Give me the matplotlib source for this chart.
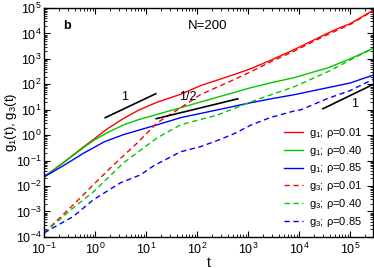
import numpy as np
import matplotlib
matplotlib.use("Agg")
import matplotlib.pyplot as plt
from matplotlib.ticker import LogLocator, NullFormatter

plt.rcParams['font.family'] = ['Liberation Sans', 'DejaVu Sans']
plt.rcParams['mathtext.default'] = 'regular'

# values as (log10 t, log10 g)
red_g1_lt = [-1, -0.6, -0.2, 0.0, 0.24, 0.55, 0.85, 1.22, 1.68, 2.07, 2.72, 3.06, 3.45, 3.9, 4.5, 4.77, 5.0, 5.48]
red_g1_lg = [-1.64, -1.04, -0.42, -0.12, 0.25, 0.65, 0.98, 1.3, 1.61, 1.95, 2.38, 2.62, 2.95, 3.36, 3.95, 4.2, 4.38, 4.94]

green_g1_lt = [-1, -0.6, -0.2, 0.0, 0.24, 0.55, 0.85, 1.22, 1.68, 2.41, 3.06, 3.45, 3.9, 4.57, 5.0, 5.48]
green_g1_lg = [-1.64, -1.05, -0.45, -0.17, 0.1, 0.4, 0.61, 0.82, 1.08, 1.5, 1.87, 2.06, 2.26, 2.65, 3.0, 3.44]

blue_g1_lt = [-1, -0.6, -0.21, 0.18, 0.555, 1.22, 1.68, 2.41, 3.06, 3.45, 3.9, 4.57, 5.0, 5.48]
blue_g1_lg = [-1.64, -1.17, -0.69, -0.26, 0.02, 0.41, 0.69, 1.0, 1.28, 1.43, 1.59, 1.87, 2.05, 2.38]

red_g3_lt = [-1, -0.43, -0.035, 0.36, 0.83, 1.22, 1.68, 2.07, 2.72, 3.06, 3.45, 3.9, 4.5, 5.0, 5.48]
red_g3_lg = [-3.84, -2.74, -1.95, -1.17, -0.3, 0.49, 1.08, 1.6, 2.18, 2.5, 2.89, 3.3, 3.9, 4.35, 4.92]

green_g3_lt = [-1, -0.43, -0.035, 0.555, 1.22, 1.68, 2.41, 3.06, 3.25, 3.9, 4.57, 5.0, 5.48]
green_g3_lg = [-3.84, -2.86, -2.23, -1.09, -0.1, 0.41, 0.8, 1.31, 1.45, 1.9, 2.5, 2.95, 3.44]

blue_g3_lt = [-1, -0.43, -0.035, 0.5, 0.89, 1.15, 1.68, 2.07, 2.41, 2.72, 3.06, 3.25, 3.45, 3.9, 4.04, 4.57, 5.0, 5.48]
blue_g3_lg = [-3.84, -3.2, -2.54, -1.87, -1.56, -1.2, -0.65, -0.45, -0.2, 0.05, 0.4, 0.55, 0.7, 0.95, 1.0, 1.45, 1.75, 2.22]

# guide lines (log10 t, log10 g)
slope1_left = ([0.2, 1.19], [0.69, 1.63])
slope_half = ([1.2, 2.8], [0.65, 1.43])
slope1_right = ([4.47, 5.48], [1.04, 2.02])

series = [
    (red_g1_lt, red_g1_lg, 'red', '-', 'g$_1$; ρ=0.01'),
    (green_g1_lt, green_g1_lg, '#00c800', '-', 'g$_1$; ρ=0.40'),
    (blue_g1_lt, blue_g1_lg, 'blue', '-', 'g$_1$; ρ=0.85'),
    (red_g3_lt, red_g3_lg, 'red', '--', 'g$_3$; ρ=0.01'),
    (green_g3_lt, green_g3_lg, '#00c800', '--', 'g$_3$; ρ=0.40'),
    (blue_g3_lt, blue_g3_lg, 'blue', '--', 'g$_3$; ρ=0.85'),
]

fig = plt.figure(figsize=(3.74, 2.68), dpi=100)
ax = fig.add_axes([0.118, 0.116, 0.879, 0.854])

for lt, lg, c, ls, lab in series:
    t = 10.0 ** np.array(lt)
    g = 10.0 ** np.array(lg)
    line, = ax.plot(t, g, color=c, ls=ls, lw=1.0, label=lab)
    if ls == '--':
        line.set_dashes((3.8, 2.6))

for xs, ys in (slope1_left, slope_half, slope1_right):
    ax.plot(10.0 ** np.array(xs), 10.0 ** np.array(ys), color='black', lw=1.2)

ax.text(10 ** 0.57, 10 ** 1.5, '1', fontsize=9, ha='center', va='center')
ax.text(10 ** 1.81, 10 ** 1.5, '1/2', fontsize=9, ha='center', va='center')
ax.text(10 ** 5.1, 10 ** 1.22, '1', fontsize=9, ha='center', va='center')

ax.text(0.07, 0.92, 'b', transform=ax.transAxes, fontsize=9, fontweight='bold',
        ha='center', va='center')
ax.text(0.498, 0.92, 'N=200', transform=ax.transAxes, fontsize=9.5,
        ha='center', va='center')

ax.set_xscale('log')
ax.set_yscale('log')
ax.set_xlim(0.1, 10 ** 5.45)
ax.set_ylim(1e-4, 1e5)
ax.set_xlabel('t', fontsize=10, labelpad=-1)
ax.set_ylabel('g$_1$(t), g$_3$(t)', fontsize=9.5)
ax.yaxis.set_label_coords(-0.075, 0.5)

ax.xaxis.set_major_locator(LogLocator(base=10, numticks=20))
ax.yaxis.set_major_locator(LogLocator(base=10, numticks=20))
ax.xaxis.set_minor_locator(LogLocator(base=10, subs=np.arange(2, 10), numticks=20))
ax.yaxis.set_minor_locator(LogLocator(base=10, subs=np.arange(2, 10), numticks=20))
ax.xaxis.set_minor_formatter(NullFormatter())
ax.yaxis.set_minor_formatter(NullFormatter())
ax.tick_params(which='both', direction='in', top=True, right=True, labelsize=9)
ax.tick_params(which='major', length=4, width=0.8)
ax.tick_params(which='minor', length=2, width=0.6)
ax.tick_params(axis='y', pad=2)
for s in ax.spines.values():
    s.set_linewidth(1.0)

ax.legend(loc='lower right', bbox_to_anchor=(0.99, 0.0), frameon=False, fontsize=8,
          handlelength=1.7, handletextpad=0.5, labelspacing=0.35, borderaxespad=0.3)

fig.savefig('out.png', dpi=100)
